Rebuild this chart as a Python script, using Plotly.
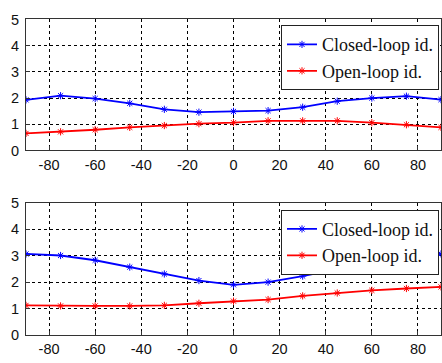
import plotly.graph_objects as go

# Azimuth angles (deg) at which each identification was evaluated
angles = [-90, -75, -60, -45, -30, -15, 0, 15, 30, 45, 60, 75, 90]

# Upper panel
closed_top = [1.93, 2.09, 1.98, 1.80, 1.57, 1.46, 1.49, 1.52, 1.65, 1.88, 2.00, 2.07, 1.94]
open_top = [0.65, 0.71, 0.79, 0.88, 0.95, 1.02, 1.06, 1.13, 1.13, 1.13, 1.06, 0.98, 0.88]

# Lower panel
closed_bot = [3.07, 3.01, 2.83, 2.57, 2.31, 2.06, 1.90, 2.00, 2.23, 2.49, 2.81, 2.98, 3.07]
open_bot = [1.12, 1.10, 1.10, 1.10, 1.12, 1.20, 1.28, 1.34, 1.48, 1.59, 1.69, 1.76, 1.82]

x_ticks = [-80, -60, -40, -20, 0, 20, 40, 60, 80]
x_labels = ["-80", "-60", "-40", "-20", "0", "20", "40", "60", "80"]
y_ticks = [0, 1, 2, 3, 4, 5]

TICK_FONT = "Liberation Sans"
LEG_FONT = "Liberation Serif"
W, H = 442, 363
ML, MR = 26, 1
PW = W - ML - MR


def series(x, y, name, color, xa, ya, legend):
    return go.Scatter(
        x=x, y=y, name=name, mode="lines+markers",
        line=dict(color=color, width=1.8),
        marker=dict(symbol="asterisk", size=6, color=color,
                    line=dict(color=color, width=1)),
        xaxis=xa, yaxis=ya, legend=legend,
    )


fig = go.Figure()
fig.add_trace(series(angles, closed_top, "Closed-loop id.", "#0000ff", "x", "y", "legend"))
fig.add_trace(series(angles, open_top, "Open-loop id.", "#ff0000", "x", "y", "legend"))
fig.add_trace(series(angles, closed_bot, "Closed-loop id.", "#0000ff", "x2", "y2", "legend2"))
fig.add_trace(series(angles, open_bot, "Open-loop id.", "#ff0000", "x2", "y2", "legend2"))

axis_common = dict(
    showgrid=True, gridcolor="#000000", griddash="3px,3px", gridwidth=0.8,
    showline=True, linecolor="#333333", linewidth=1, mirror=True,
    zeroline=False, ticks="inside", ticklen=4, tickcolor="#333333",
    tickfont=dict(family=TICK_FONT, size=14.5, color="#111111"),
)

top_dom = [1 - 149 / H, 1 - 12 / H]
bot_dom = [1 - 342 / H, 1 - 204 / H]

legend_common = dict(
    xanchor="left", yanchor="top",
    bgcolor="white", bordercolor="#222222", borderwidth=1,
    font=dict(family=LEG_FONT, size=18, color="#111111"), tracegroupgap=0,
)

fig.update_layout(
    width=W, height=H,
    margin=dict(l=ML, r=MR, t=0, b=0),
    paper_bgcolor="white", plot_bgcolor="white",
    font=dict(family=TICK_FONT, size=14.5, color="#111111"),
    xaxis=dict(range=[-90, 90], tickvals=x_ticks, ticktext=x_labels, anchor="y",
               ticklabelstandoff=1, **axis_common),
    yaxis=dict(range=[0, 5], tickvals=y_ticks, domain=top_dom, anchor="x",
               ticklabelstandoff=3, **axis_common),
    xaxis2=dict(range=[-90, 90], tickvals=x_ticks, ticktext=x_labels, anchor="y2",
                ticklabelstandoff=1, **axis_common),
    yaxis2=dict(range=[0, 5], tickvals=y_ticks, domain=bot_dom, anchor="x2",
                ticklabelstandoff=3, **axis_common),
    legend=dict(x=(281 - ML) / PW, y=1 - 18 / H, **legend_common),
    legend2=dict(x=(281 - ML) / PW, y=1 - 211 / H, **legend_common),
)

fig.write_html("out.html")
